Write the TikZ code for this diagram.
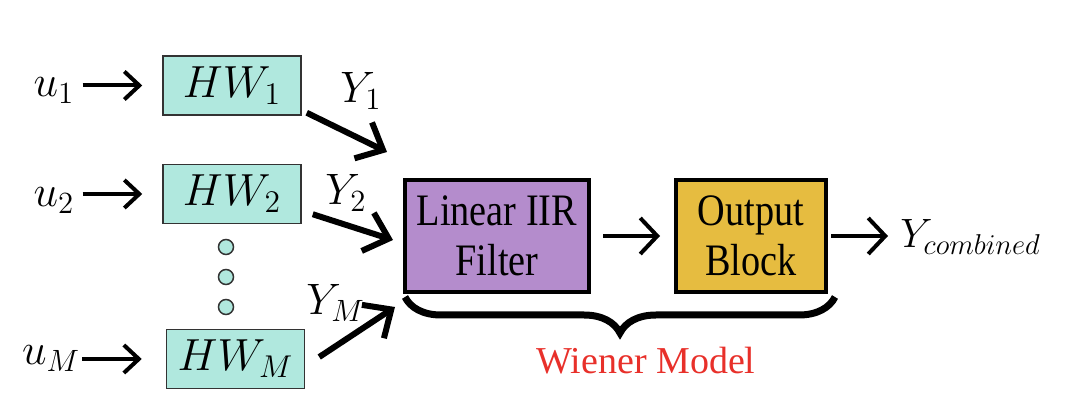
\RequirePackage{fix-cm}
\documentclass[tikz,border=0pt]{standalone}
\usepackage{fontspec}
\newfontfamily\boxfont[FakeStretch=0.85]{Liberation Serif}
\newfontfamily\capfont{Liberation Serif}
\usetikzlibrary{arrows.meta, calc, decorations.pathreplacing}
\definecolor{hwcol}{HTML}{B0E8DE}
\definecolor{lincol}{HTML}{B48CCC}
\definecolor{outcol}{HTML}{E6BC40}
\definecolor{wienercol}{HTML}{E8302A}

\begin{document}
\begin{tikzpicture}[x=0.5pt,y=-0.5pt,
  hwbox/.style={draw=black!80, line width=0.75pt, fill=hwcol, minimum width=69pt, minimum height=29.5pt, inner sep=0pt, font=\fontsize{22.5}{26}\selectfont},
  bigbox/.style={draw, line width=2pt, minimum height=56pt, inner sep=0pt, align=center, font=\boxfont\fontsize{22.5}{25}\selectfont},
  lbl/.style={inner sep=0pt, font=\fontsize{22}{26}\selectfont},
  dot/.style={circle, draw=black!80, line width=0.75pt, fill=hwcol, minimum size=7.5pt, inner sep=0pt},
  inarrow/.style={line width=2pt, -{Straight Barb[length=7.5pt,width=14pt]}},
  midarrow/.style={line width=2pt, -{Straight Barb[length=8.5pt,width=18pt]}},
  yarrow/.style={line width=3pt, -{Straight Barb[length=11pt,width=20pt]}}]

\useasboundingbox (0,0) rectangle (1088,416);

\node[hwbox] (hw1) at (232,85.5) {$HW_1$};
\node[hwbox] (hw2) at (232,194) {$HW_2$};
\node[hwbox] (hwM) at (235.5,359) {$HW_M$};

\node[dot] (d1) at (226,247) {};
\node[dot] (d2) at (226,277) {};
\node[dot] (d3) at (226,307) {};

\node[lbl, anchor=base] (u1) at (54,97) {$u_1$};
\node[lbl, anchor=base] (u2) at (54,207) {$u_2$};
\node[lbl, anchor=base] (uM) at (51,365) {$u_M$};

\draw[inarrow, shorten <=4pt, shorten >=10pt] (u1.east |- hw1.west) -- (hw1.west);
\draw[inarrow, shorten <=4pt, shorten >=10pt] (u2.east |- hw2.west) -- (hw2.west);
\draw[inarrow, shorten <=1pt, shorten >=12pt] (uM.east |- hwM.west) -- (hwM.west);

\node[bigbox, fill=lincol, minimum width=92pt] (lin) at (497,236) {Linear IIR\\Filter};
\node[bigbox, fill=outcol, minimum width=75pt] (out) at (751,236) {Output\\Block};
\node[lbl, anchor=base west, font=\fontsize{20.5}{25}\selectfont] (ycomb) at (900,248) {$Y_{combined}$};

\coordinate (y1end) at (387,152);
\coordinate (y2end) at (393,240);
\coordinate (yMend) at (395,307);

\draw[yarrow] ($(hw1.south east)+(5,-3)$) -- (y1end);
\draw[yarrow] ($(hw2.south east)+(11,-10)$) -- (y2end);
\draw[yarrow] ($(hwM.east)+(14,-2)$) -- (yMend);

\node[lbl, anchor=base west] (y1) at (340,103) {$Y_1$};
\node[lbl, anchor=base west] (y2) at (325,205) {$Y_2$};
\node[lbl, anchor=base west] (yM) at (306,315) {$Y_M$};

\draw[midarrow, shorten <=6pt, shorten >=7pt] (lin.east) -- (out.west);
\draw[midarrow, shorten <=1.5pt, shorten >=6pt] (out.east) -- (out.east -| ycomb.west);

\draw[line width=3.5pt, decorate, decoration={brace, mirror, amplitude=18pt}] ($(lin.south west)+(2,3)$) -- ($(out.south east)+(7,3)$);
\node[text=wienercol, inner sep=0pt, font=\capfont\fontsize{19}{23}\selectfont] (wiener) at (646,361) {Wiener Model};
\end{tikzpicture}
\end{document}
